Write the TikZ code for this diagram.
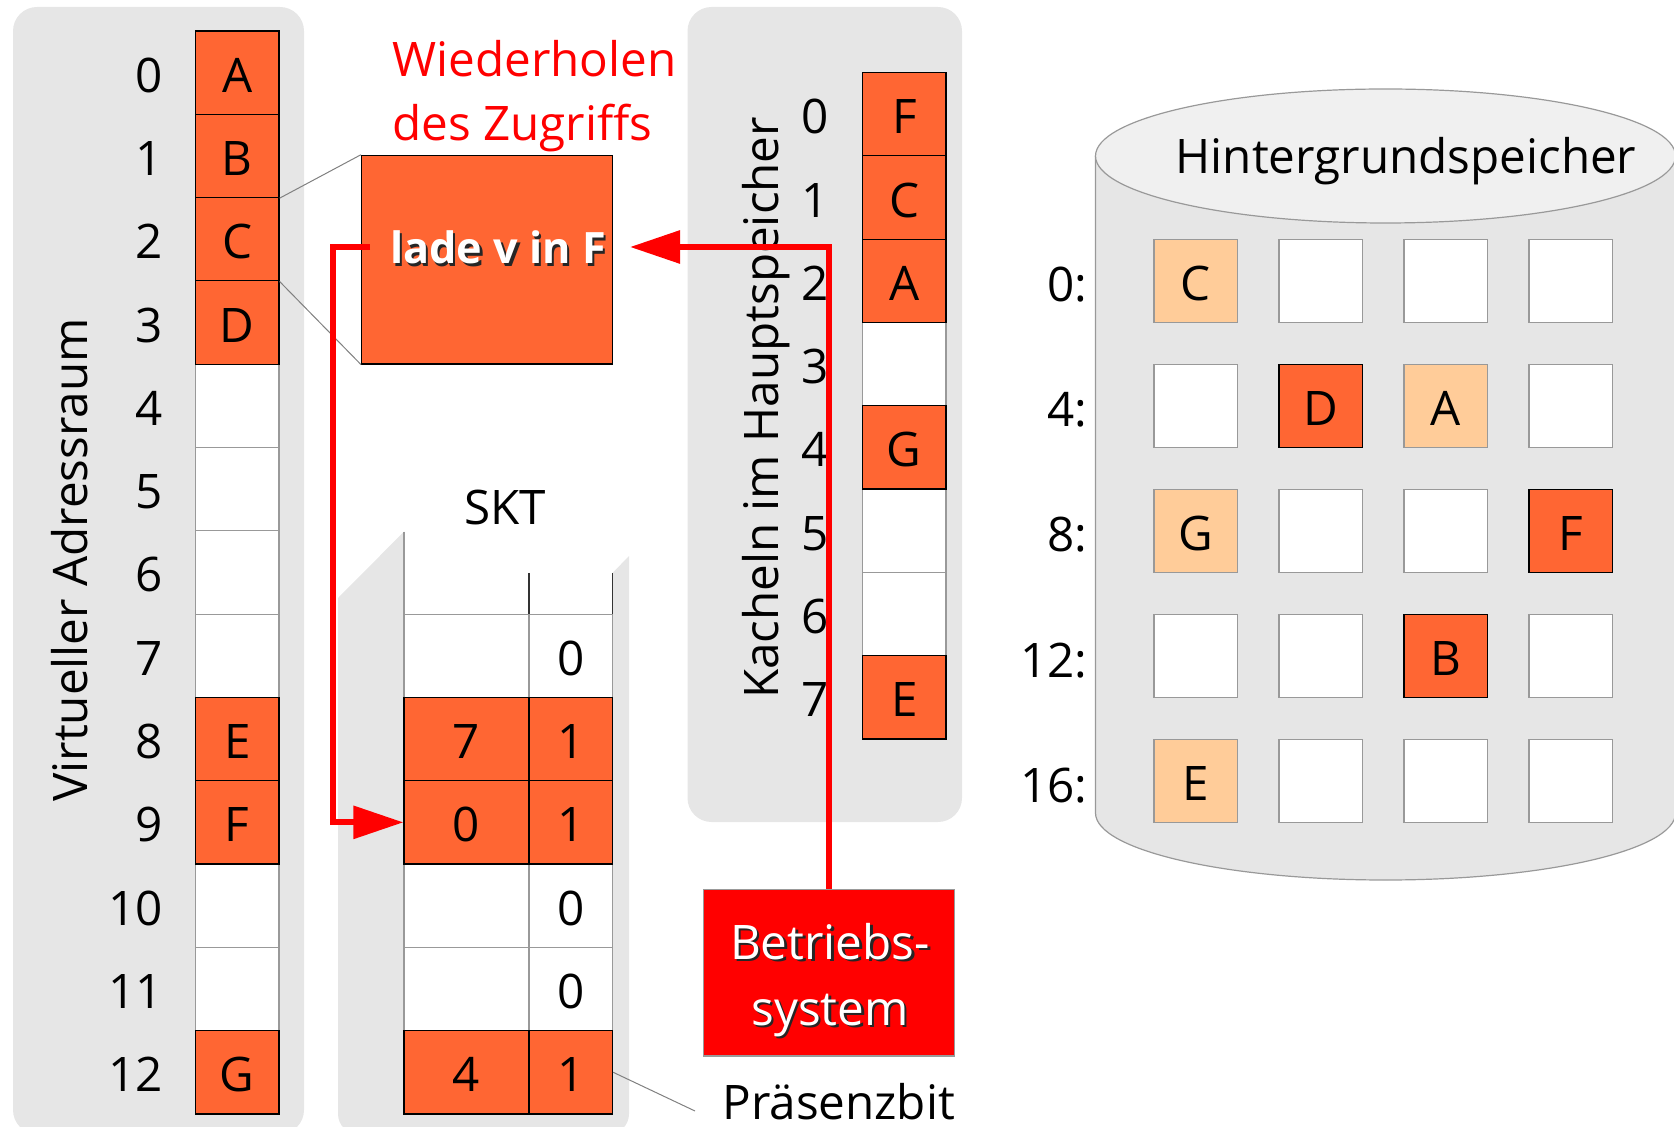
\documentclass[tikz,border=0pt]{standalone}
\usepackage{fontspec}
\setmainfont{Open Sans}
\usetikzlibrary{arrows.meta}
\definecolor{orng}{HTML}{FF6633}
\definecolor{lorng}{HTML}{FFCC99}
\definecolor{panel}{HTML}{E6E6E6}
\definecolor{cyltop}{HTML}{F0F0F0}
\definecolor{lgray}{HTML}{999999}
\definecolor{osred}{HTML}{FF0000}
\tikzset{
  cell/.style={draw=lgray, fill=white, line width=0.6pt, minimum width=41.75pt, minimum height=41.65pt, inner sep=0pt, text height=19.5pt, text depth=0pt},
  widecell/.style={cell, minimum width=62.5pt},
  hot/.style={fill=orng, draw=black},
  lite/.style={fill=lorng, draw=lgray},
  lbl/.style={inner sep=0pt, anchor=base east},
  clbl/.style={inner sep=0pt, anchor=base},
  guide/.style={draw=gray, line width=0.5pt},
  redarrow/.style={draw=osred, line width=3pt, -{Triangle[length=25pt,width=16pt]}},
  shadowtxt/.style={inner sep=0pt, anchor=base, text=black!85},
  whitetxt/.style={inner sep=0pt, anchor=base, text=white},
  boldfont/.style={font=\fontsize{21.6pt}{30pt}\selectfont\bfseries},
}
\begin{document}
\begin{tikzpicture}[x=0.5pt,y=-0.5pt,font=\fontsize{23.8pt}{32pt}\selectfont]
\useasboundingbox (0,0) rectangle (1674,1127);
% panels
\fill[panel, rounded corners=12pt] (13,7) rectangle (304,1134);
\fill[panel, rounded corners=12pt] (687.5,7) rectangle (962,822);
\fill[panel] (338,598) -- (404,531.6) -- (404,614) -- (612.5,614) -- (612.5,573) -- (629,556) [rounded corners=10pt] -- (629,1134) -- (338,1134) [sharp corners] -- cycle;
\draw[lgray, line width=0.6pt] (404,531.6) -- (404,614);
\draw[black!80, line width=0.6pt] (529,573) -- (529,614);
\draw[black!80, line width=0.6pt] (612.5,573) -- (612.5,614);
% cylinder
\filldraw[fill=panel, draw=lgray, line width=0.6pt] (1095.5,156) -- (1095.5,813) arc[start angle=180, end angle=0, x radius=290, y radius=67] -- (1675.5,156);
\filldraw[fill=cyltop, draw=lgray, line width=0.6pt] (1385.5,156) ellipse[x radius=290, y radius=67];
\node[clbl] (htitle) at (1406,174) {Hintergrundspeicher};
\foreach \r/\c in {0/1,0/2,0/3,1/0,1/3,2/1,2/2,3/0,3/1,3/3,4/1,4/2,4/3}
  \node[cell] (h\r\c) at ({1195.7+125*\c},{281+125*\r}) {};
\foreach \r/\c/\s/\t in {0/0/lite/C,1/1/hot/D,1/2/lite/A,2/0/lite/G,2/3/hot/F,3/2/hot/B,4/0/lite/E}
  \node[cell,\s] (h\r\c) at ({1195.7+125*\c},{281+125*\r}) {\t};
\foreach \r/\t in {0/0:,1/4:,2/8:,3/12:,4/16:}
  \node[lbl] (hl\r) at (1088,{302+125*\r}) {\t};
% virtual address space
\foreach \i in {4,5,6,7,10,11} \node[cell] (v\i) at (237.25,{72.65+83.3*\i}) {};
\foreach \i/\t in {0/A,1/B,2/C,3/D,8/E,9/F,12/G} \node[cell,hot] (v\i) at (237.25,{72.65+83.3*\i}) {\t};
\foreach \i in {0,...,12} \node[lbl] (vn\i) at (163,{92.15+83.3*\i}) {\i};
\node[rotate=90, anchor=base, inner sep=0pt] (vtitle) at (87,560) {Virtueller Adressraum};
% frames
\foreach \i in {3,5,6} \node[cell] (k\i) at (904.3,{114.25+83.3*\i}) {};
\foreach \i/\t in {0/F,1/C,2/A,4/G,7/E} \node[cell,hot] (k\i) at (904.3,{114.25+83.3*\i}) {\t};
\foreach \i in {0,...,7} \node[clbl] (kn\i) at (815.5,{133.75+83.3*\i}) {\i};
\node[rotate=90, anchor=base, inner sep=0pt] (ktitle) at (778,408) {Kacheln im Hauptspeicher};
% SKT
\node[clbl] (skt) at (505,524.6) {SKT};
\foreach \i in {7,10,11} {
  \node[widecell] (s\i a) at (466.5,{72.65+83.3*\i}) {};
  \node[cell] (s\i b) at (570.75,{72.65+83.3*\i}) {0};
}
\foreach \i/\t in {8/7,9/0,12/4} {
  \node[widecell,hot] (s\i a) at (466.5,{72.65+83.3*\i}) {\t};
  \node[cell,hot] (s\i b) at (570.75,{72.65+83.3*\i}) {1};
}
% Präsenzbit
\node[anchor=base west, inner sep=0pt] (praes) at (722,1119) {Präsenzbit};
\coordinate (praesln) at (695,1111);
\draw[guide] (s12b.east) -- (praesln);
% lade box
\node[draw=black, fill=orng, line width=0.6pt, minimum width=125.45pt, minimum height=104.35pt, inner sep=0pt] (lade) at (487.05,259.65) {};
\draw[guide] (v1.south east) -- (lade.north west);
\draw[guide] (v2.south east) -- (lade.south west);
\node[shadowtxt, boldfont] (ladesh) at (500.5,266.5) {lade v in F};
\node[whitetxt, boldfont] (ladetxt) at (498,264) {lade v in F};
% red text
\node[anchor=base west, inner sep=0pt, text=osred] (wied1) at (392,77) {Wiederholen};
\node[anchor=base west, inner sep=0pt, text=osred] (wied2) at (392,141) {des Zugriffs};
% Betriebssystem
\node[fill=osred, draw=lgray, line width=0.6pt, minimum width=125.5pt, minimum height=83.35pt, inner sep=0pt] (bs) at (828.8,972.65) {};
\node[shadowtxt] (bs1sh) at (832.5,961.5) {Betriebs-};
\node[whitetxt] (bs1) at (830,959) {Betriebs-};
\node[shadowtxt] (bs2sh) at (832.5,1027.5) {system};
\node[whitetxt] (bs2) at (830,1025) {system};
% red arrows
\coordinate (r1s) at (370,247);
\draw[redarrow] (r1s) -- ++(-37,0) |- (s9a.west);
\coordinate (r2e) at (630,247);
\draw[redarrow] (bs.north) |- (r2e);
\end{tikzpicture}
\end{document}
